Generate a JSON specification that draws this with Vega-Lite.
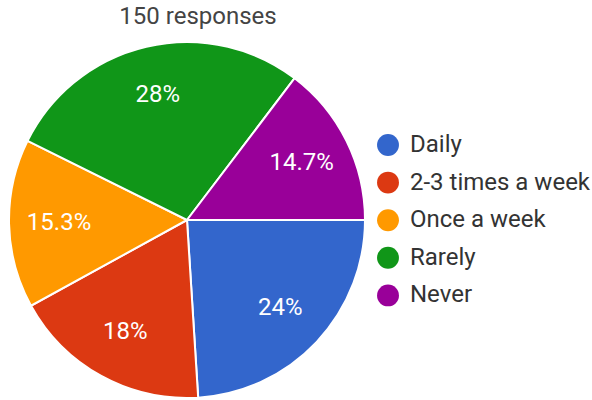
{
  "$schema": "https://vega.github.io/schema/vega-lite/v6.json",
  "autosize": {"type": "none"},
  "width": 356,
  "height": 356,
  "padding": {"left": 9, "top": 42, "right": 227, "bottom": 2},
  "background": "white",
  "title": {"text": "150 responses", "fontSize": 24, "font": "Roboto", "fontWeight": "normal", "color": "#444444", "anchor": "middle", "dx": 11, "offset": 9},
  "data": {"values": [
    {"answer": "Daily", "count": 36, "label": "24%", "k": 1},
    {"answer": "2-3 times a week", "count": 27, "label": "18%", "k": 2},
    {"answer": "Once a week", "count": 23, "label": "15.3%", "k": 3},
    {"answer": "Rarely", "count": 42, "label": "28%", "k": 4},
    {"answer": "Never", "count": 22, "label": "14.7%", "k": 5}
  ]},
  "encoding": {
    "theta": {"field": "count", "type": "quantitative", "stack": true, "scale": {"range": [1.5708, 7.854]}},
    "order": {"field": "k", "type": "quantitative"}
  },
  "layer": [
    {
      "mark": {"type": "arc", "outerRadius": 178, "stroke": "white", "strokeWidth": 2},
      "encoding": {
        "color": {
          "field": "answer", "type": "nominal",
          "scale": {"domain": ["Daily", "2-3 times a week", "Once a week", "Rarely", "Never"], "range": ["#3366CC", "#DC3912", "#FF9900", "#109618", "#990099"]},
          "legend": {"title": null, "orient": "none", "legendX": 367, "legendY": 91, "symbolType": "circle", "symbolSize": 480, "symbolStrokeWidth": 0, "symbolOpacity": 1, "labelFontSize": 24, "labelFont": "Roboto", "labelColor": "#333333", "rowPadding": 13.6, "labelOffset": 10, "labelLimit": 300}
        }
      }
    },
    {
      "mark": {"type": "text", "radius": 128, "fontSize": 24, "font": "Roboto", "color": "white"},
      "encoding": {"text": {"field": "label", "type": "nominal"}}
    }
  ]
}
